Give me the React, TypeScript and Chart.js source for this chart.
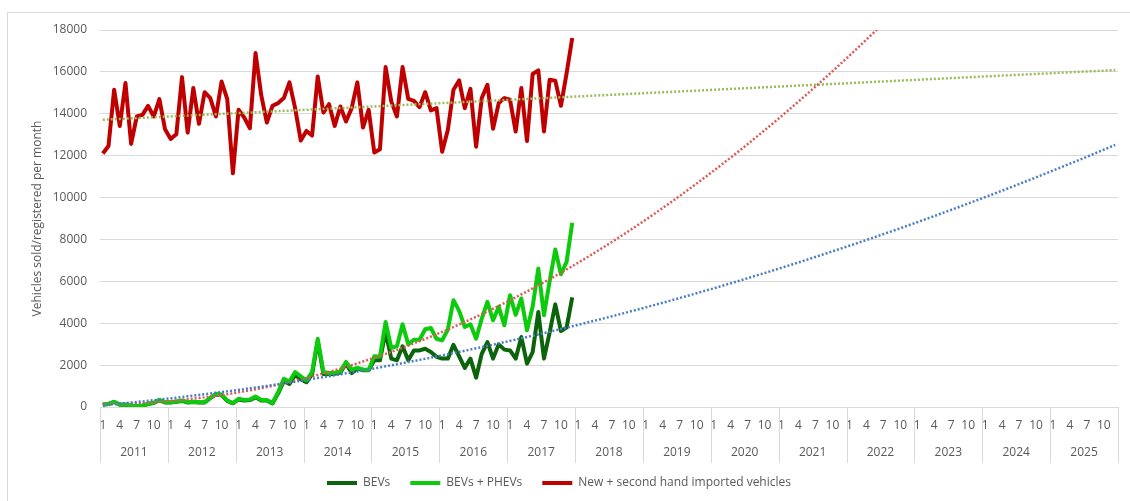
import React, { useEffect, useRef } from 'react';
import { Chart, registerables } from 'chart.js';

Chart.register(...registerables);

// ---- Data ----
const YEARS = [2011, 2012, 2013, 2014, 2015, 2016, 2017, 2018, 2019, 2020, 2021, 2022, 2023, 2024, 2025];
const MONTH_TICKS = [1, 4, 7, 10];
const Y_MAX = 18000;
const Y_STEP = 2000;

const SERIES_NAMES = ['BEVs', 'BEVs + PHEVs', 'New + second hand imported vehicles'];

// Monthly values, Jan 2011 - Dec 2017
const BEVS = [
  110, 140, 240, 110, 110, 60, 45, 60, 140, 190, 320, 215,
  215, 245, 290, 215, 235, 215, 215, 420, 600, 570, 290, 175,
  360, 310, 330, 460, 310, 310, 170, 650, 1230, 1100, 1520, 1330,
  1180, 1560, 3150, 1580, 1560, 1580, 1640, 2080, 1620, 1830, 1750, 1750,
  2230, 2230, 3600, 2310, 2230, 2900, 2230, 2700, 2700, 2780, 2630, 2400,
  2310, 2310, 2970, 2420, 1870, 2310, 1400, 2540, 3100, 2310, 2990, 2740,
  2700, 2310, 3340, 2070, 2620, 4540, 2310, 3550, 4900, 3630, 3790, 5230,
];

const BEVS_PHEVS = [
  120, 150, 250, 120, 120, 70, 50, 70, 150, 200, 340, 230,
  230, 260, 310, 230, 250, 230, 230, 440, 630, 600, 310, 190,
  390, 340, 360, 500, 340, 340, 190, 710, 1350, 1220, 1670, 1460,
  1270, 1670, 3260, 1670, 1620, 1640, 1700, 2150, 1780, 1870, 1790, 1770,
  2420, 2400, 4060, 2830, 2900, 3950, 2990, 3210, 3210, 3710, 3770, 3260,
  3180, 3700, 5100, 4590, 3820, 3950, 3260, 4220, 5020, 4140, 4780, 3900,
  5340, 4400, 5180, 3660, 4800, 6610, 4380, 6000, 7520, 6340, 6930, 8800,
];

const IMPORTED = [
  12100, 12460, 15150, 13420, 15470, 12560, 13870, 13950, 14380, 13870, 14700, 13260,
  12800, 13020, 15750, 13100, 15230, 13520, 15030, 14750, 13870, 15540, 14700, 11160,
  14190, 13820, 13310, 16900, 14900, 13580, 14380, 14510, 14750, 15500, 14270, 12720,
  13180, 12960, 15780, 14060, 14460, 13420, 14350, 13630, 14270, 15500, 13340, 14190,
  12150, 12310, 16230, 14590, 13870, 16230, 14710, 14620, 14320, 15030, 14160, 14270,
  12190, 13230, 15150, 15590, 14270, 15190, 12430, 14750, 15380, 13280, 14510, 14750,
  14670, 13150, 15230, 12700, 15900, 16070, 13150, 15620, 15580, 14380, 15930, 17620,
];

// Trendline equations: value = c0 + c1*m + c2*m^2, m = months since Jan 2011
const TREND_BEVS = [82, 24.7, 0.25];
const TREND_BEVS_PHEVS = [151, 0, 0.954];
const TREND_IMPORTED = [13715, 13.25, 0];

// ---- Derived ----
const LABELS: string[] = YEARS.flatMap((y) => Array.from({ length: 12 }, (_, m) => `${y}-${m + 1}`));
const trend = (coef: number[]) => LABELS.map((_, m) => coef.reduce((s, c, p) => s + c * Math.pow(m, p), 0));

const FONT = '"Open Sans", "Noto Sans", sans-serif';
const TEXT = '#595959';
const GRID = '#d9d9d9';

const yearAxisPlugin = {
  id: 'yearAxis',
  afterDraw(chart: any) {
    const { ctx, chartArea } = chart;
    const x = chart.scales.x;
    const slot = (x.right - x.left) / LABELS.length;
    ctx.save();
    ctx.strokeStyle = GRID;
    ctx.lineWidth = 1;
    for (let k = 0; k <= YEARS.length; k++) {
      const px = Math.round(x.left + k * 12 * slot) + 0.5;
      ctx.beginPath();
      ctx.moveTo(px, chartArea.bottom);
      ctx.lineTo(px, 463);
      ctx.stroke();
    }
    ctx.fillStyle = TEXT;
    ctx.font = `12px ${FONT}`;
    ctx.textAlign = 'center';
    ctx.textBaseline = 'middle';
    YEARS.forEach((y, k) => ctx.fillText(String(y), x.left + (k * 12 + 6) * slot, 453));
    ctx.restore();
  },
};

export default function App() {
  const ref = useRef<HTMLCanvasElement>(null);

  useEffect(() => {
    if (!ref.current) return;
    const dotted = { borderDash: [2, 2], borderWidth: 2.5, pointRadius: 0, fill: false, tension: 0, borderCapStyle: 'butt' as const };
    const chart = new Chart(ref.current, {
      type: 'line',
      data: {
        labels: LABELS,
        datasets: [
          { label: SERIES_NAMES[0], data: BEVS, borderColor: '#0B640B', backgroundColor: '#0B640B', borderWidth: 4, pointRadius: 0, tension: 0, order: 3, borderJoinStyle: 'round' },
          { label: SERIES_NAMES[1], data: BEVS_PHEVS, borderColor: '#0CCB0C', backgroundColor: '#0CCB0C', borderWidth: 4, pointRadius: 0, tension: 0, order: 2, borderJoinStyle: 'round' },
          { label: SERIES_NAMES[2], data: IMPORTED, borderColor: '#C00000', backgroundColor: '#C00000', borderWidth: 4, pointRadius: 0, tension: 0, order: 1, borderJoinStyle: 'round' },
          { label: 'trend-bev', data: trend(TREND_BEVS), borderColor: '#4A7EC4', ...dotted, order: 0 },
          { label: 'trend-bevphev', data: trend(TREND_BEVS_PHEVS), borderColor: '#DB5A56', ...dotted, order: 0 },
          { label: 'trend-imported', data: trend(TREND_IMPORTED), borderColor: '#9BBB59', ...dotted, order: 0 },
        ],
      },
      options: {
        animation: false,
        responsive: false,
        devicePixelRatio: 1,
        layout: { padding: { top: 30, right: 12, bottom: 2, left: 0 } },
        plugins: {
          tooltip: { enabled: false },
          legend: {
            position: 'bottom',
            labels: {
              usePointStyle: true,
              pointStyle: 'line',
              pointStyleWidth: 30,
              padding: 20,
              color: TEXT,
              font: { family: FONT, size: 12 },
              filter: (item: any) => item.datasetIndex < 3,
              sort: (a: any, b: any) => a.datasetIndex - b.datasetIndex,
            },
          },
        },
        scales: {
          x: {
            type: 'category',
            offset: true,
            grid: { display: false, drawTicks: false },
            border: { display: true, color: GRID },
            afterFit: (s: any) => { s.height = 50; },
            ticks: {
              autoSkip: false,
              maxRotation: 0,
              minRotation: 0,
              padding: 11,
              color: TEXT,
              font: { family: FONT, size: 12 },
              callback: (_v: any, i: number) => (MONTH_TICKS.includes((i % 12) + 1) ? String((i % 12) + 1) : ''),
            },
          },
          y: {
            min: 0,
            max: Y_MAX,
            afterFit: (s: any) => { s.width = 100; },
            grid: { color: GRID, drawTicks: false },
            border: { display: false },
            ticks: {
              stepSize: Y_STEP,
              padding: 13,
              color: TEXT,
              font: { family: FONT, size: 12 },
              callback: (v: any) => String(v),
            },
            title: {
              display: true,
              text: 'Vehicles sold/registered per month',
              color: TEXT,
              font: { family: FONT, size: 12 },
              padding: { top: 30, bottom: 0 },
            },
          },
        },
      },
      plugins: [yearAxisPlugin],
    });
    return () => chart.destroy();
  }, []);

  return (
    <div style={{ position: 'fixed', left: 0, top: 0, width: 1130, height: 501, overflow: 'hidden', background: '#fff' }}>
      <div style={{ position: 'absolute', left: 7, top: 12, width: 1200, height: 600, border: `1px solid ${GRID}` }} />
      <canvas ref={ref} width={1130} height={501} style={{ position: 'absolute', left: 0, top: 0, width: 1130, height: 501 }} />
    </div>
  );
}
